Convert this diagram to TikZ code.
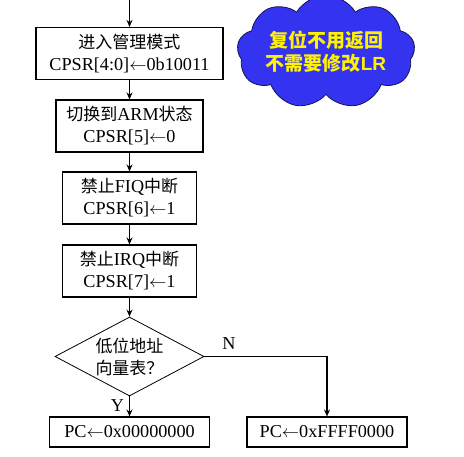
\documentclass[tikz,border=0pt]{standalone}
\usepackage{fontspec}
\setmainfont{Liberation Serif}[Scale=1.07]
\setsansfont{Liberation Sans}
\newfontfamily\cjk{Noto Sans CJK SC}
\usetikzlibrary{arrows.meta,shapes.geometric,shapes.symbols}
\newcommand{\zh}[1]{{\cjk #1}}
\definecolor{cloudblue}{RGB}{51,51,240}
\definecolor{cloudline}{RGB}{20,20,90}

\begin{document}
\begin{tikzpicture}[x=1pt,y=-1pt,
  every node/.style={font=\fontsize{17}{22}\selectfont},
  stepbox/.style={draw,line width=1.1pt,align=center,inner sep=0pt,minimum height=52pt},
  pcbox/.style={draw,line width=1.1pt,inner sep=0pt,minimum width=160pt,minimum height=30pt},
  flow/.style={line width=1.6pt,-{Stealth[length=7pt,width=6pt]}}]
\useasboundingbox (0,0) rectangle (464,457);
% main column
\coordinate (entry) at (129.5,0);
\node[stepbox,minimum width=187pt] (mode) at (129.5,53.5) {\zh{进入管理模式}\\CPSR[4:0]$\leftarrow$0b10011};
\node[stepbox,minimum width=147pt] (arm) at (129.5,126) {\zh{切换到}ARM\zh{状态}\\CPSR[5]$\leftarrow$0};
\node[stepbox,minimum width=134pt] (fiq) at (129.5,198) {\zh{禁止}FIQ\zh{中断}\\CPSR[6]$\leftarrow$1};
\node[stepbox,minimum width=134pt] (irq) at (129.5,271) {\zh{禁止}IRQ\zh{中断}\\CPSR[7]$\leftarrow$1};
\node[draw,diamond,aspect=1.9,inner sep=0pt,line width=0.8pt,minimum width=149pt,minimum height=79pt,align=left] (vec) at (129.5,356.5) {\zh{低位地址}\\\zh{向量表？}};
\node[pcbox] (low) at (129.5,432) {PC$\leftarrow$0x00000000};
\node[pcbox] (high) at (327,432) {PC$\leftarrow$0xFFFF0000};
% cloud note
\node[cloud,cloud puffs=9,cloud puff arc=120,aspect=2,draw=cloudline,fill=cloudblue,line width=0.8pt,
  minimum width=178pt,minimum height=90pt,inner sep=0pt,align=center,text=yellow,
  font=\fontsize{19}{23}\selectfont\bfseries] (note) at (326,52)
  {\zh{复位不用返回}\\\zh{不需要修改}{\sffamily LR}};
% connectors
\draw[flow] (entry) -- (mode.north);
\draw[flow] (mode) -- (arm);
\draw[flow] (arm) -- (fiq);
\draw[flow] (fiq) -- (irq);
\draw[flow] (irq) -- (vec.north);
\draw[flow] (vec.south) -- (low.north) node[pos=0.45,left=1pt] (y) {Y};
\draw[flow] (vec.east) -| (high.north) node[pos=0.1,above=3pt] (n) {N};
\end{tikzpicture}
\end{document}
